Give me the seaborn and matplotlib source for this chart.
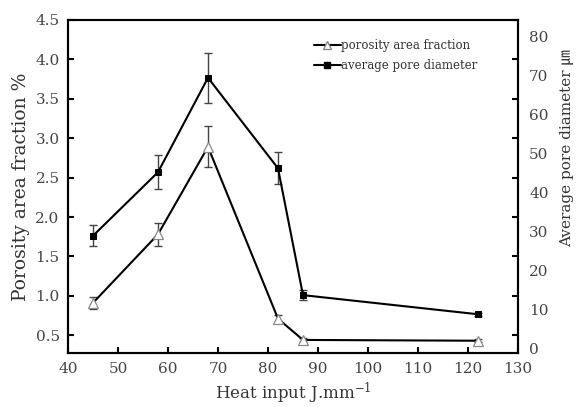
import matplotlib
matplotlib.use("Agg")
import matplotlib.pyplot as plt
from matplotlib.lines import Line2D
import seaborn as sns
import pandas as pd

# data
heat_input = [45, 58, 68, 82, 87, 122]
porosity = [0.91, 1.78, 2.89, 0.71, 0.44, 0.43]          # %
porosity_err = [0.075, 0.15, 0.26, 0.05, 0.03, 0.02]
pore_diam = [29.0, 45.3, 69.5, 46.3, 13.8, 8.9]          # um
pore_diam_err = [2.65, 4.3, 6.4, 4.1, 1.2, 0.4]

left_ticks = [0.5, 1.0, 1.5, 2.0, 2.5, 3.0, 3.5, 4.0, 4.5]
right_ticks = [0, 10, 20, 30, 40, 50, 60, 70, 80]
x_ticks = [40, 50, 60, 70, 80, 90, 100, 110, 120, 130]

sns.set_style("ticks")
plt.rcParams['font.family'] = ['DejaVu Serif']
plt.rcParams['mathtext.fontset'] = 'dejavuserif'

df = pd.DataFrame({'heat': heat_input, 'por': porosity, 'diam': pore_diam})

fig = plt.figure(figsize=(5.86, 4.07), dpi=100)
ax = fig.add_axes([0.116, 0.1334, 0.768, 0.8175])
ax2 = ax.twinx()

# 孔隙率 (left axis)
ax.errorbar(heat_input, porosity, yerr=porosity_err, fmt='none', ecolor='#444444',
            elinewidth=1.0, capsize=3, capthick=1.0, zorder=2)
sns.lineplot(data=df, x='heat', y='por', ax=ax, color='black', linewidth=1.5,
             marker='^', markersize=7, markerfacecolor='white', markeredgecolor='#888888',
             markeredgewidth=0.9, zorder=3)

# 平均孔径 (right axis)
ax2.errorbar(heat_input, pore_diam, yerr=pore_diam_err, fmt='none', ecolor='#444444',
             elinewidth=1.0, capsize=3, capthick=1.0, zorder=2)
sns.lineplot(data=df, x='heat', y='diam', ax=ax2, color='black', linewidth=1.5,
             marker='s', markersize=5, markerfacecolor='black', markeredgecolor='black', zorder=3)

ax.set_xlim(40, 130)
ax.set_ylim(0.278, 4.47)
ax2.set_ylim(-0.95, 84.3)
ax.set_xticks(x_ticks)
ax.set_yticks(left_ticks)
ax2.set_yticks(right_ticks)

ax.tick_params(axis='both', direction='in', length=4, width=1.5, labelsize=11,
               colors='black', labelcolor='#444444', right=True, labelright=False, top=False)
ax.tick_params(axis='x', pad=7)
ax.tick_params(axis='y', pad=6)
ax2.tick_params(axis='y', length=0, labelsize=11, labelcolor='#444444', pad=8)

for a in (ax, ax2):
    for s in a.spines.values():
        s.set_linewidth(1.5)
        s.set_color('black')

ax.set_xlabel('Heat input J.mm$^{-1}$', fontsize=12, color='#333333', labelpad=3)
ax.set_ylabel('Porosity area fraction %', fontsize=13.5, color='#333333', labelpad=4)
ax2.set_ylabel('')
fig.text(0.967, 0.636, 'Average pore diameter ㎛', rotation=90, ha='center', va='center',
         fontsize=11, color='#333333', family=['DejaVu Serif', 'Noto Sans CJK SC'])

handles = [
    Line2D([], [], color='black', linewidth=1.5, marker='^', markersize=6,
           markerfacecolor='white', markeredgecolor='#888888'),
    Line2D([], [], color='black', linewidth=1.5, marker='s', markersize=4.5,
           markerfacecolor='black', markeredgecolor='black'),
]
ax2.legend(handles, ['porosity area fraction', 'average pore diameter'],
           loc='upper left', bbox_to_anchor=(0.527, 0.915), bbox_transform=fig.transFigure,
           frameon=False, fontsize=8.5, handlelength=2.3, handletextpad=0.0,
           labelspacing=0.6, borderaxespad=0, labelcolor='#333333')

fig.savefig('out.png', dpi=100)
